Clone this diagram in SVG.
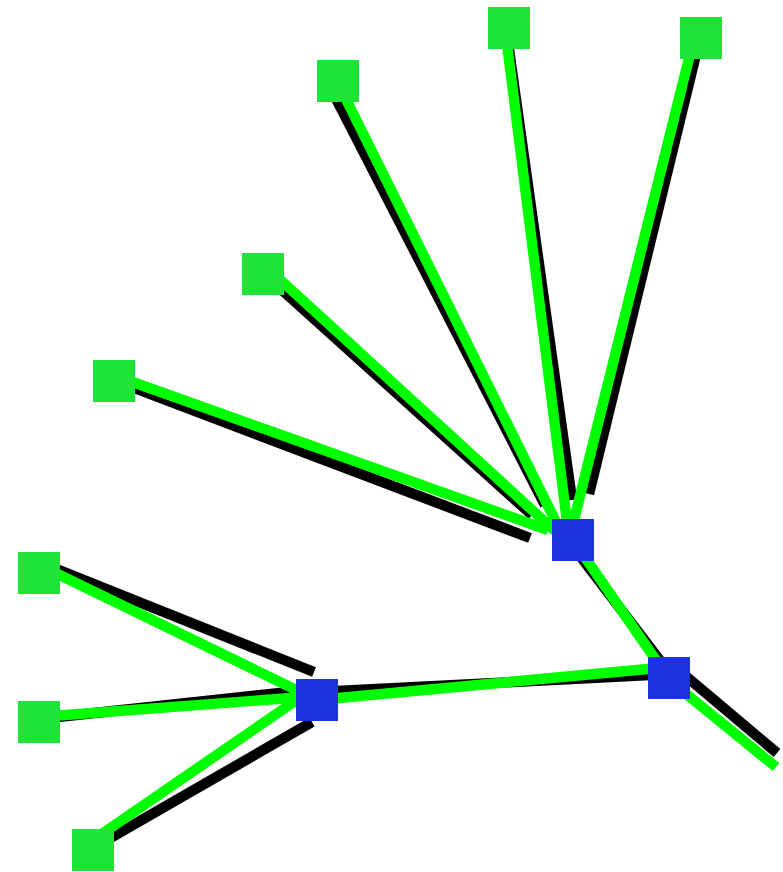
<svg xmlns="http://www.w3.org/2000/svg" width="783" height="872" viewBox="0 0 783 872">
<style>
.k{stroke:#000000;stroke-width:10.4;fill:none;stroke-linecap:butt}
.g{stroke:#00ff00;stroke-width:10.4;fill:none;stroke-linecap:butt}
.leaf{fill:#20e338}
.hub{fill:#1e32e0}
</style>
<rect width="783" height="872" fill="#ffffff"/>
<g id="connectors">
<g id="shadow-lines">
<line class="k" x1="113" y1="380" x2="530" y2="538"/>
<line class="k" x1="263" y1="273" x2="532" y2="515"/>
<line class="k" x1="327" y1="81" x2="545" y2="505"/>
<line class="k" x1="506" y1="28" x2="572" y2="500"/>
<line class="k" x1="700" y1="38" x2="589" y2="494"/>
<line class="k" x1="568" y1="540" x2="674" y2="679"/>
<line class="k" x1="669" y1="662" x2="777" y2="753"/>
<line class="k" x1="317" y1="692" x2="669" y2="674"/>
<line class="k" x1="39" y1="562" x2="314" y2="672"/>
<line class="k" x1="39" y1="719" x2="317" y2="689"/>
<line class="k" x1="93" y1="848" x2="312" y2="722"/>
</g>
<g id="main-lines">
<line class="g" x1="113" y1="375" x2="548" y2="530"/>
<line class="g" x1="263" y1="264" x2="555" y2="531"/>
<line class="g" x1="337" y1="81" x2="560" y2="530"/>
<line class="g" x1="505" y1="28" x2="568" y2="530"/>
<line class="g" x1="694" y1="38" x2="574" y2="520"/>
<line class="g" x1="573" y1="540" x2="669" y2="679"/>
<line class="g" x1="669" y1="680" x2="776" y2="767"/>
<line class="g" x1="317" y1="700" x2="669" y2="667"/>
<line class="g" x1="39" y1="565" x2="317" y2="700"/>
<line class="g" x1="39" y1="717" x2="317" y2="696"/>
<line class="g" x1="93" y1="840" x2="317" y2="686"/>
</g>
</g>
<g id="leaf1"><rect class="leaf" x="488" y="7" width="42" height="42"/></g>
<g id="leaf2"><rect class="leaf" x="680" y="17" width="42" height="42"/></g>
<g id="leaf3"><rect class="leaf" x="317" y="60" width="42" height="42"/></g>
<g id="leaf4"><rect class="leaf" x="242" y="253" width="42" height="42"/></g>
<g id="leaf5"><rect class="leaf" x="93" y="360" width="42" height="42"/></g>
<g id="leaf6"><rect class="leaf" x="18" y="552" width="42" height="42"/></g>
<g id="leaf7"><rect class="leaf" x="18" y="701" width="42" height="42"/></g>
<g id="leaf8"><rect class="leaf" x="72" y="829" width="42" height="42"/></g>
<g id="hubA"><rect class="hub" x="552" y="519" width="42" height="42"/></g>
<g id="hubB"><rect class="hub" x="296" y="679" width="42" height="42"/></g>
<g id="hubC"><rect class="hub" x="648" y="657" width="42" height="42"/></g>
</svg>
